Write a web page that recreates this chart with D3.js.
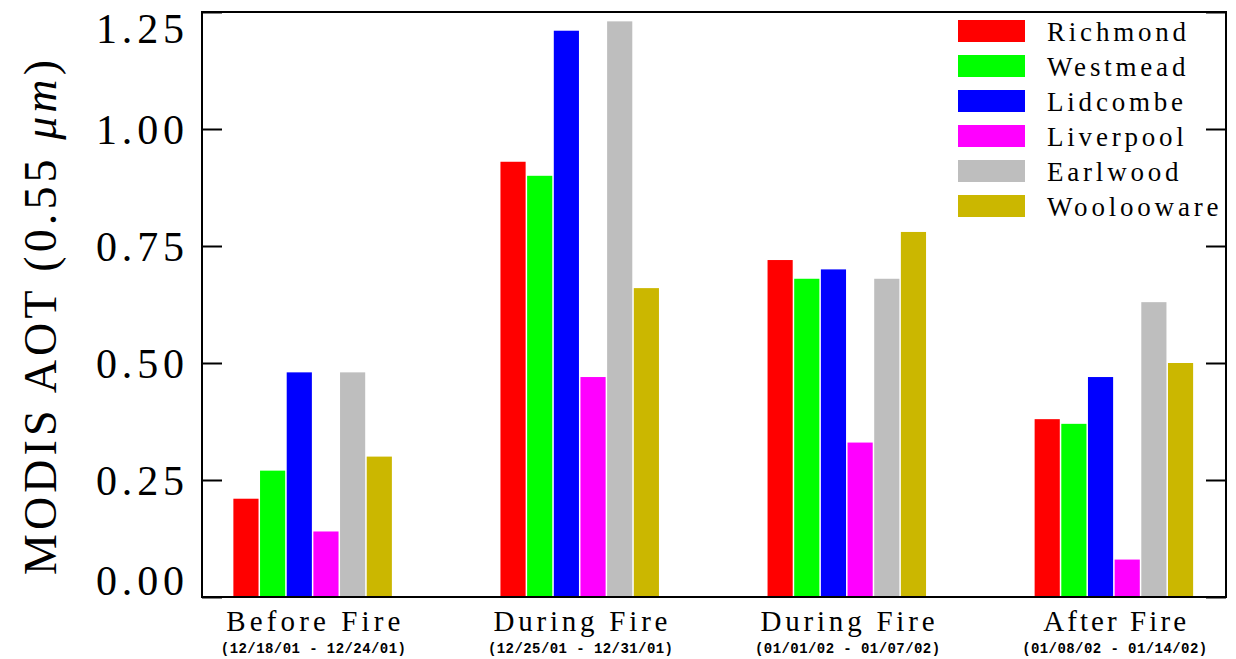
<!DOCTYPE html>
<html>
<head>
<meta charset="utf-8">
<script src="https://cdn.jsdelivr.net/npm/d3@7"></script>
<style>
  html, body { margin: 0; padding: 0; background: #fff; }
  svg { display: block; }
  text { font-family: "Liberation Serif", "DejaVu Serif", serif; fill: #000; }
</style>
</head>
<body>
<svg id="chart" width="1236" height="659"></svg>
<script>
// Weekly mean MODIS aerosol optical thickness at six Sydney sites
const periods = ["Before Fire", "During Fire", "During Fire ", "After Fire"];
const periodDates = ["(12/18/01 - 12/24/01)", "(12/25/01 - 12/31/01)", "(01/01/02 - 01/07/02)", "(01/08/02 - 01/14/02)"];
const stations = ["Richmond", "Westmead", "Lidcombe", "Liverpool", "Earlwood", "Woolooware"];
const stationColors = ["#ff0000", "#00ff00", "#0000ff", "#ff00ff", "#bebebe", "#cbb700"];

const richmond   = [0.21, 0.93, 0.72, 0.38];
const westmead   = [0.27, 0.90, 0.68, 0.37];
const lidcombe   = [0.48, 1.21, 0.70, 0.47];
const liverpool  = [0.14, 0.47, 0.33, 0.08];
const earlwood   = [0.48, 1.23, 0.68, 0.63];
const woolooware = [0.30, 0.66, 0.78, 0.50];

const yTicks = [0, 0.25, 0.5, 0.75, 1.0, 1.25];

const seriesValues = [richmond, westmead, lidcombe, liverpool, earlwood, woolooware];

const svg = d3.select("#chart");
const plot = { left: 202, right: 1226, top: 12, bottom: 597 };

const x = d3.scalePoint().domain(periods).range([plot.left, plot.right]).padding(0.417);
const groupWidth = 160;
const xInner = d3.scaleBand().domain(stations).range([-groupWidth / 2, groupWidth / 2]).padding(0);
const y = d3.scaleLinear().domain([0, 1.25]).range([plot.bottom, plot.top]);
const color = d3.scaleOrdinal().domain(stations).range(stationColors);

// bars
const rows = [];
periods.forEach((p, i) => {
  stations.forEach((s, j) => rows.push({ period: p, station: s, value: seriesValues[j][i] }));
});

svg.append("g").selectAll("rect").data(rows).join("rect")
  .attr("x", d => x(d.period) + xInner(d.station))
  .attr("width", xInner.bandwidth() - 1.5)
  .attr("y", d => y(d.value))
  .attr("height", d => y(0) - y(d.value))
  .attr("fill", d => color(d.station));

// frame
svg.append("rect")
  .attr("x", plot.left).attr("y", plot.top)
  .attr("width", plot.right - plot.left).attr("height", plot.bottom - plot.top)
  .attr("fill", "none").attr("stroke", "#000").attr("stroke-width", 2);

// left axis (ticks pointing into the plot)
const yAxisLeft = d3.axisRight(y).tickValues(yTicks).tickSize(20).tickFormat(d3.format(".2f"));
const gl = svg.append("g").attr("transform", `translate(${plot.left},0)`).call(yAxisLeft);
gl.select(".domain").remove();
gl.selectAll(".tick line").attr("stroke", "#000").attr("stroke-width", 2);
gl.selectAll(".tick text")
  .attr("x", -18).attr("text-anchor", "end")
  .attr("dy", d => d === 0 ? "-0.05em" : d === 1.25 ? "0.72em" : "0.35em")
  .style("font-family", "'Liberation Serif', serif")
  .style("font-size", "42px")
  .attr("textLength", 88).attr("lengthAdjust", "spacing");

// right axis mirror ticks
const yAxisRight = d3.axisLeft(y).tickValues(yTicks).tickSize(20).tickFormat("");
const gr = svg.append("g").attr("transform", `translate(${plot.right},0)`).call(yAxisRight);
gr.select(".domain").remove();
gr.selectAll(".tick line").attr("stroke", "#000").attr("stroke-width", 2);

// y title
const yTitle = svg.append("text")
  .attr("transform", `translate(56,${(plot.top + plot.bottom) / 2 + 13}) rotate(-90)`)
  .attr("text-anchor", "middle")
  .style("font-size", "46px")
  .attr("textLength", 515).attr("lengthAdjust", "spacing");
yTitle.append("tspan").text("MODIS AOT (0.55 ");
yTitle.append("tspan").style("font-style", "italic").text("\u03bcm");
yTitle.append("tspan").text(")");

// period labels
const xl = svg.append("g");
xl.selectAll("text.period").data(periods).join("text")
  .attr("class", "period")
  .attr("x", d => x(d)).attr("y", 631)
  .attr("text-anchor", "middle")
  .style("font-size", "29px")
  .attr("textLength", d => d.trim() === "After Fire" ? 143 : 174)
  .attr("lengthAdjust", "spacing")
  .text(d => d.trim());
xl.selectAll("text.dates").data(periods).join("text")
  .attr("class", "dates")
  .attr("x", d => x(d)).attr("y", 653)
  .attr("text-anchor", "middle")
  .style("font-family", "'Liberation Mono', monospace")
  .style("font-size", "14px")
  .style("font-weight", "bold")
  .attr("textLength", 185)
  .attr("lengthAdjust", "spacing")
  .text((d, i) => periodDates[i]);

// legend
const legend = svg.append("g");
const lg = legend.selectAll("g").data(stations).join("g")
  .attr("transform", (d, i) => `translate(958,${31 + i * 35})`);
lg.append("rect")
  .attr("x", 0).attr("y", -11).attr("width", 67).attr("height", 22)
  .attr("fill", d => color(d));
lg.append("text")
  .attr("x", 89).attr("y", 10)
  .style("font-size", "27px")
  .style("letter-spacing", "3.8px")
  .text(d => d);
</script>
</body>
</html>
